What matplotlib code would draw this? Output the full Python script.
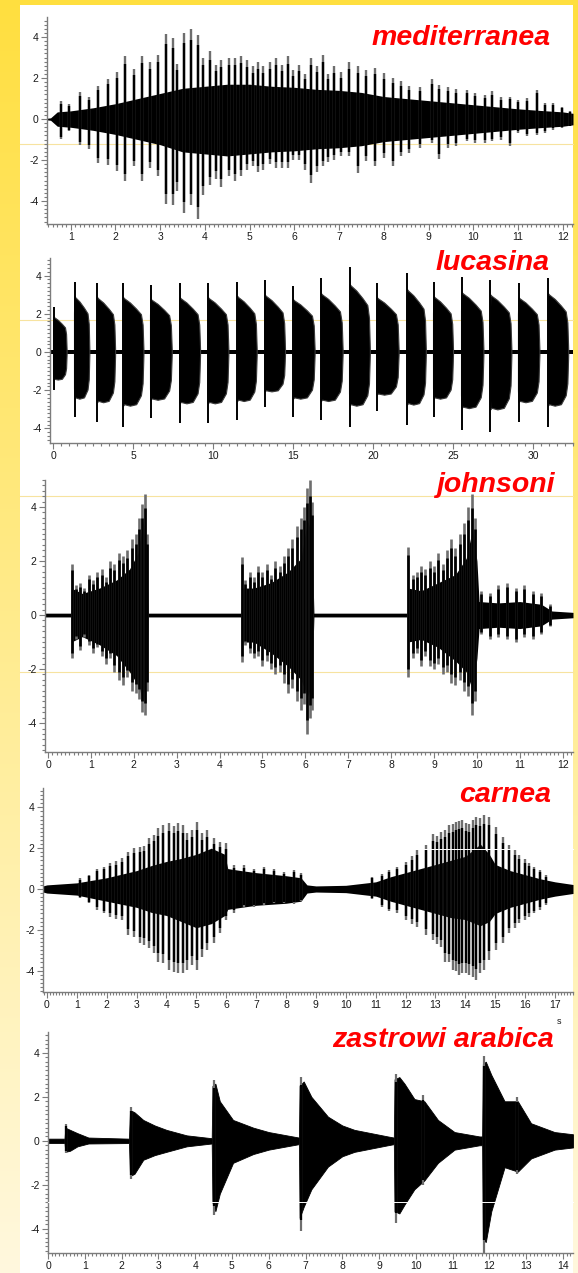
import numpy as np
import matplotlib
matplotlib.use('Agg')
import matplotlib.pyplot as plt
from matplotlib.ticker import MultipleLocator, FixedLocator, FixedFormatter
from matplotlib.lines import Line2D

plt.rcParams['font.family'] = ['Liberation Sans', 'DejaVu Sans']

W, H = 578, 1273

# ---------------- data ----------------
titles = ['mediterranea', 'lucasina', 'johnsoni', 'carnea', 'zastrowi arabica']

ytick_vals = [-4, -2, 0, 2, 4]
ytick_labels = ['-4', '-2', '0', '2', '4']

# mediterranea
med_xticks = [1, 2, 3, 4, 5, 6, 7, 8, 9, 10, 11, 12]
med_core_t = [0.47, 0.55, 0.7, 1.0, 1.5, 2.0, 2.5, 3.0, 3.5, 4.0, 4.5, 5.0, 5.5, 6.0, 6.5,
              7.0, 7.5, 8.0, 8.5, 9.0, 9.5, 10.0, 10.5, 11.0, 11.5, 12.0, 12.23]
med_core_hi = [0.04, 0.06, 0.35, 0.4, 0.55, 0.75, 1.0, 1.25, 1.5, 1.6, 1.7, 1.7, 1.6, 1.55, 1.45,
               1.4, 1.3, 1.1, 1.0, 0.9, 0.8, 0.7, 0.6, 0.5, 0.42, 0.35, 0.28]
med_core_lo = [-0.04, -0.06, -0.35, -0.4, -0.55, -0.75, -1.0, -1.25, -1.6, -1.7, -1.8, -1.7, -1.6, -1.55, -1.45,
               -1.4, -1.3, -1.1, -1.0, -0.9, -0.8, -0.7, -0.6, -0.5, -0.42, -0.35, -0.28]
med_sp_t = [0.78, 0.97, 1.20, 1.40, 1.61, 1.84, 2.04, 2.22, 2.41, 2.60, 2.78, 2.96, 3.12, 3.28,
            3.38, 3.53, 3.69, 3.84, 3.96, 4.11, 4.25, 4.37, 4.53, 4.68, 4.80, 4.94, 5.07, 5.19,
            5.31, 5.45, 5.58, 5.72, 5.85, 5.98, 6.11, 6.24, 6.37, 6.50, 6.63, 6.76, 6.89, 7.05,
            7.23, 7.42, 7.60, 7.80, 8.01, 8.20, 8.39, 8.57, 8.80, 9.07, 9.24, 9.43, 9.62, 9.85,
            10.03, 10.26, 10.41, 10.63, 10.82, 11.00, 11.20, 11.42, 11.60, 11.79, 11.98, 12.17]
med_sp_hi = [0.86, 0.75, 1.30, 1.07, 1.63, 1.95, 2.28, 3.06, 2.44, 3.09, 2.80, 3.14, 4.16, 3.95,
             2.70, 4.20, 4.39, 4.10, 3.00, 3.30, 2.65, 2.90, 2.98, 3.00, 3.10, 2.90, 2.57, 2.76,
             2.57, 2.76, 2.98, 2.65, 3.06, 2.40, 2.65, 2.20, 3.00, 2.60, 3.14, 2.20, 2.57, 2.30,
             2.80, 2.57, 2.40, 2.50, 2.24, 2.00, 1.84, 1.60, 1.56, 1.95, 1.67, 1.56, 1.46, 1.43,
             1.27, 1.19, 1.35, 1.07, 1.10, 0.94, 1.02, 1.43, 0.78, 0.78, 0.59, 0.37]
med_sp_lo = [-0.98, -0.60, -1.27, -1.46, -2.15, -2.23, -2.55, -3.04, -2.31, -3.04, -2.40, -2.80, -4.13, -4.18,
             -3.50, -4.60, -4.18, -4.90, -3.70, -3.20, -2.90, -3.30, -2.80, -3.04, -2.80, -2.47, -2.30, -2.60,
             -2.50, -2.20, -2.40, -2.40, -2.39, -2.00, -1.98, -2.50, -3.12, -2.60, -2.30, -2.10, -1.98, -1.82,
             -1.82, -2.63, -2.06, -2.30, -1.90, -2.30, -1.82, -1.66, -1.41, -1.17, -1.95, -1.41, -1.33, -1.09,
             -1.17, -1.17, -1.09, -1.00, -1.33, -0.68, -0.85, -0.76, -0.68, -0.52, -0.44, -0.36]

# lucasina
luc_xticks = [0, 5, 10, 15, 20, 25, 30]
luc_start = [0.0, 1.31, 2.73, 4.35, 6.06, 7.88, 9.65, 11.48, 13.2, 14.97, 16.71, 18.5, 20.2,
             22.1, 23.75, 25.5, 27.3, 29.06, 30.9]
luc_end = [0.85, 2.27, 3.88, 5.65, 7.42, 9.19, 10.96, 12.73, 14.5, 16.35, 18.1, 19.8, 21.6,
           23.3, 25.0, 26.9, 28.65, 30.4, 32.2]
luc_peak_hi = [2.34, 3.68, 3.6, 3.6, 3.5, 3.6, 3.6, 3.68, 3.77, 3.46, 3.86, 4.47, 3.6, 4.12,
               3.68, 3.94, 3.77, 3.6, 3.86]
luc_peak_lo = [-2.0, -3.39, -3.65, -3.9, -3.47, -3.73, -3.73, -3.56, -2.86, -3.39, -3.56, -3.9,
               -3.1, -3.82, -3.39, -4.08, -4.17, -3.65, -3.9]
luc_prof_t = [0.0, 0.02, 0.08, 0.35, 0.65, 0.88, 0.96, 1.0]
luc_prof_hi = [0.55, 0.80, 0.78, 0.72, 0.63, 0.55, 0.40, 0.04]
luc_prof_lo = [0.55, 0.72, 0.70, 0.72, 0.70, 0.58, 0.42, 0.04]
luc_base_t = [-0.19, 32.5]
luc_base_amp = [0.1, 0.1]

# johnsoni
joh_xticks = [0, 1, 2, 3, 4, 5, 6, 7, 8, 9, 10, 11, 12]
joh_core_t = [-0.07, 0.53, 0.54, 0.8, 1.2, 1.6, 1.9, 2.1, 2.22, 2.3, 2.34, 4.50, 4.51, 4.8, 5.2,
              5.6, 5.9, 6.05, 6.15, 6.2, 8.38, 8.39, 8.7, 9.1, 9.5, 9.75, 9.9, 10.0, 10.05, 10.5,
              11.0, 11.5, 11.75, 12.24]
joh_core_hi = [0.07, 0.07, 1.0, 0.8, 1.0, 1.3, 1.7, 2.3, 3.5, 2.0, 0.07, 0.07, 1.0, 1.0, 1.2,
               1.6, 2.1, 3.5, 3.0, 0.07, 0.07, 1.0, 0.9, 1.2, 1.5, 2.1, 3.2, 2.0, 0.5, 0.45,
               0.5, 0.4, 0.15, 0.1]
joh_core_lo = [-0.07, -0.07, -1.0, -0.8, -1.1, -1.5, -2.1, -2.6, -3.2, -2.0, -0.07, -0.07, -1.0, -1.0, -1.4,
               -1.9, -2.4, -3.0, -2.6, -0.07, -0.07, -1.0, -0.9, -1.2, -1.7, -2.1, -2.8, -1.6, -0.5, -0.45,
               -0.5, -0.4, -0.15, -0.1]
joh_sp_t = [0.55, 0.65, 0.75, 0.85, 0.95, 1.05, 1.15, 1.25, 1.35, 1.45, 1.55, 1.65, 1.75, 1.85,
            1.95, 2.05, 2.12, 2.18, 2.25, 2.30,
            4.52, 4.60, 4.70, 4.80, 4.90, 5.00, 5.10, 5.20, 5.30, 5.40, 5.50, 5.60, 5.70, 5.80,
            5.90, 5.98, 6.05, 6.10, 6.15,
            8.40, 8.50, 8.60, 8.70, 8.80, 8.90, 9.00, 9.10, 9.20, 9.30, 9.40, 9.50, 9.60, 9.70,
            9.80, 9.88, 9.95,
            10.1, 10.3, 10.5, 10.7, 10.9, 11.1, 11.3, 11.5, 11.7]
joh_sp_hi = [1.88, 1.1, 1.2, 1.0, 1.5, 1.3, 1.6, 1.7, 1.4, 2.0, 1.9, 2.3, 2.2, 2.4,
             2.8, 3.0, 3.6, 4.1, 4.5, 3.0,
             2.16, 1.3, 1.6, 1.4, 1.8, 1.6, 1.9, 1.5, 2.0, 1.8, 2.2, 2.5, 2.8, 3.3,
             3.6, 4.0, 4.7, 5.0, 4.2,
             2.53, 1.5, 1.6, 1.8, 1.7, 2.0, 1.8, 2.3, 1.9, 2.4, 2.8, 2.5, 3.0, 3.4,
             4.0, 4.5, 3.6,
             0.9, 0.8, 1.1, 1.2, 1.0, 1.1, 0.9, 0.8, 0.4]
joh_sp_lo = [-1.6, -0.9, -1.3, -0.8, -1.1, -1.4, -1.2, -1.5, -1.8, -1.6, -2.1, -2.4, -2.6, -2.3,
             -2.8, -2.9, -3.1, -3.6, -3.7, -2.8,
             -1.73, -1.1, -1.4, -1.6, -1.5, -1.9, -1.7, -2.0, -2.2, -2.1, -2.5, -2.9, -2.7, -3.2,
             -3.5, -3.3, -4.4, -3.8, -3.5,
             -2.28, -1.6, -1.4, -1.9, -1.5, -1.9, -2.0, -1.8, -2.2, -2.1, -2.5, -2.6, -2.4, -2.8,
             -3.0, -3.7, -3.2,
             -0.7, -0.9, -0.8, -0.9, -1.0, -0.8, -0.9, -0.7, -0.4]

# carnea
car_xticks = list(range(0, 18))
car_core_t = [-0.13, 0.0, 1.0, 2.0, 3.0, 3.5, 4.0, 4.5, 5.0, 5.5, 5.95, 6.05, 6.5, 7.0, 8.0, 8.5,
              8.7, 9.0, 10.0, 11.0, 11.5, 12.0, 12.5, 13.0, 13.5, 14.0, 14.5, 14.8, 15.0, 15.5,
              16.0, 16.5, 17.0, 17.6]
car_core_hi = [0.15, 0.2, 0.3, 0.55, 0.9, 1.15, 1.35, 1.5, 1.7, 2.0, 1.7, 1.0, 0.9, 0.8, 0.65, 0.55,
               0.2, 0.15, 0.18, 0.35, 0.6, 0.8, 1.0, 1.2, 1.4, 1.6, 2.2, 1.7, 1.2, 0.9,
               0.7, 0.5, 0.35, 0.22]
car_core_lo = [-0.15, -0.2, -0.3, -0.6, -0.9, -1.15, -1.3, -1.6, -1.9, -1.7, -1.3, -1.0, -0.9, -0.8, -0.7, -0.6,
               -0.2, -0.15, -0.18, -0.35, -0.6, -0.8, -1.0, -1.2, -1.4, -1.5, -1.8, -1.6, -1.2, -0.9,
               -0.7, -0.5, -0.35, -0.22]
car_sp_t = [1.11, 1.40, 1.67, 1.90, 2.12, 2.30, 2.50, 2.70, 2.90, 3.10, 3.25, 3.40, 3.57, 3.73,
            3.90, 4.07, 4.24, 4.40, 4.55, 4.70, 4.85, 5.02, 5.19, 5.36, 5.58, 5.80, 6.00, 6.25,
            6.59, 6.93, 7.26, 7.60, 7.93, 8.25, 8.50,
            10.89, 11.20, 11.45, 11.70, 12.00, 12.20, 12.39, 12.67, 12.90, 13.05, 13.18, 13.32,
            13.45, 13.57, 13.68, 13.79, 13.90, 14.02, 14.13, 14.24, 14.35, 14.50, 14.63, 14.80,
            15.02, 15.25, 15.47, 15.65, 15.81, 15.98, 16.14, 16.30, 16.48, 16.70]
car_sp_hi = [0.52, 0.70, 1.00, 1.10, 1.26, 1.35, 1.50, 1.83, 2.00, 2.07, 2.10, 2.48, 2.65, 2.97,
             3.14, 3.22, 3.10, 3.22, 3.14, 2.73, 2.90, 3.30, 2.73, 2.90, 2.48, 2.32, 2.24, 1.18,
             1.18, 1.00, 1.10, 1.00, 0.85, 0.93, 0.80,
             0.60, 0.75, 0.93, 1.10, 1.34, 1.60, 1.90, 2.15, 2.70, 2.60, 2.80, 2.90,
             3.14, 3.20, 3.30, 3.35, 3.38, 3.25, 3.20, 3.40, 3.55, 3.50, 3.63, 3.55,
             3.05, 2.56, 2.15, 1.90, 1.67, 1.45, 1.26, 1.10, 0.93, 0.69]
car_sp_lo = [-0.46, -0.70, -1.03, -1.20, -1.36, -1.45, -1.52, -2.25, -2.34, -2.66, -2.75, -2.90, -3.15, -3.56,
             -3.64, -3.97, -4.05, -4.10, -4.13, -3.97, -3.72, -3.97, -3.32, -3.00, -2.66, -2.17, -1.52, -1.19,
             -0.90, -0.87, -0.78, -0.70, -0.70, -0.75, -0.60,
             -0.50, -0.90, -1.10, -1.19, -1.52, -1.70, -1.85, -2.25, -2.50, -2.70, -2.83, -3.56,
             -3.60, -3.97, -4.00, -4.20, -4.13, -4.10, -4.20, -4.30, -4.46, -4.10, -3.97, -3.48,
             -3.00, -2.66, -2.17, -1.90, -1.68, -1.50, -1.36, -1.20, -1.03, -0.80]

# zastrowi arabica
zas_xticks = list(range(0, 15))
zas_core_t = [0.0, 0.45, 0.47, 0.6, 0.8, 1.1, 2.2, 2.23, 2.35, 2.59, 2.9, 3.22, 3.77, 4.45, 4.47,
              4.55, 4.67, 5.03, 5.58, 6.0, 6.49, 6.82, 6.84, 6.95, 7.16, 7.61, 8.0, 8.33, 9.24,
              9.40, 9.42, 9.55, 9.69, 9.96, 10.23, 10.6, 11.05, 11.73, 11.80, 11.82, 11.9, 12.05,
              12.41, 12.77, 13.13, 13.77, 14.27]
zas_core_hi = [0.1, 0.1, 0.6, 0.5, 0.35, 0.15, 0.1, 1.4, 1.3, 0.95, 0.7, 0.5, 0.25, 0.12, 2.5,
               2.6, 1.8, 0.95, 0.6, 0.4, 0.25, 0.15, 2.5, 2.7, 2.0, 1.1, 0.7, 0.5, 0.2,
               0.15, 2.8, 2.9, 2.6, 1.9, 1.8, 0.95, 0.4, 0.2, 0.2, 3.5, 3.6, 3.0,
               1.8, 1.8, 0.8, 0.4, 0.3]
zas_core_lo = [-0.1, -0.1, -0.5, -0.45, -0.25, -0.12, -0.1, -1.6, -1.5, -0.86, -0.65, -0.5, -0.25, -0.12, -2.8,
               -3.2, -2.4, -1.0, -0.6, -0.4, -0.25, -0.15, -3.5, -3.0, -2.2, -1.17, -0.7, -0.5, -0.2,
               -0.15, -3.2, -3.3, -2.9, -2.2, -1.8, -1.0, -0.4, -0.2, -0.2, -4.5, -4.6, -3.2,
               -1.2, -1.4, -0.8, -0.4, -0.3]
zas_sp_t = [0.48, 2.25, 4.50, 6.87, 9.45, 10.20, 11.86, 12.75]
zas_sp_hi = [0.75, 1.55, 2.75, 2.90, 3.05, 2.10, 3.85, 2.00]
zas_sp_lo = [-0.55, -1.75, -3.35, -4.08, -3.74, -2.00, -5.10, -1.50]

# ---------------- figure ----------------
fig = plt.figure(figsize=(W / 100, H / 100), dpi=100)

# background frame: yellow strips with vertical gradient
bg = np.ones((H, W, 3))
rows = np.linspace(0, 1, H)[:, None]
top_c = np.array([255, 223, 63]) / 255
bot_c = np.array([255, 248, 222]) / 255
grad = top_c + (bot_c - top_c) * rows
bg[:, :20, :] = grad[:, None, :]
bg[:, 573:, :] = grad[:, None, :]
bg[:5, :, :] = top_c
axbg = fig.add_axes([0, 0, 1, 1], zorder=-10)
axbg.imshow(bg, aspect='auto', interpolation='nearest')
axbg.axis('off')

SP = '#7c7c7c'


def make_ax(left, top, right, bottom, xlim, ylim, xticks, xminor):
    ax = fig.add_axes([left / W, 1 - bottom / H, (right - left) / W, (bottom - top) / H])
    ax.set_facecolor('none')
    ax.set_xlim(xlim)
    ax.set_ylim(ylim)
    for s in ['top', 'right']:
        ax.spines[s].set_visible(False)
    for s in ['left', 'bottom']:
        ax.spines[s].set_color(SP)
        ax.spines[s].set_linewidth(1.0)
    ax.xaxis.set_major_locator(FixedLocator(xticks))
    ax.xaxis.set_major_formatter(FixedFormatter([str(v) for v in xticks]))
    ax.xaxis.set_minor_locator(MultipleLocator(xminor))
    ax.yaxis.set_major_locator(FixedLocator(ytick_vals))
    ax.yaxis.set_major_formatter(FixedFormatter(ytick_labels))
    ax.yaxis.set_minor_locator(MultipleLocator(0.2))
    ax.tick_params(which='both', direction='out', color=SP, labelcolor='#1a1a1a',
                   labelsize=7.5, width=0.8)
    ax.tick_params(which='major', length=4, pad=2)
    ax.tick_params(which='minor', length=2)
    return ax


def draw_spikes(ax, t, hi, lo, lw=1.5):
    t = np.asarray(t); hi = np.asarray(hi); lo = np.asarray(lo)
    ax.vlines(t, lo, hi, color='#6e6e6e', lw=lw, zorder=2)
    ax.vlines(t, lo * 0.88, hi * 0.88, color='black', lw=lw, zorder=3)


# panel 1: mediterranea
ax1 = make_ax(47, 17, 573, 224, (0.47, 12.23), (-5.12, 4.98), med_xticks, 0.1)
ax1.fill_between(med_core_t, med_core_lo, med_core_hi, color='black', lw=0, zorder=2)
draw_spikes(ax1, med_sp_t, med_sp_hi, med_sp_lo, lw=1.7)

# panel 2: lucasina
ax2 = make_ax(50, 258, 573, 443, (-0.19, 32.5), (-4.76, 4.92), luc_xticks, 0.5)
ax2.fill_between(luc_base_t, -np.array(luc_base_amp), luc_base_amp, color='black', lw=0, zorder=2)
for s, e, ph, pl in zip(luc_start, luc_end, luc_peak_hi, luc_peak_lo):
    tt = s + np.array(luc_prof_t) * (e - s)
    ax2.fill_between(tt, pl * np.array(luc_prof_lo), ph * np.array(luc_prof_hi),
                     facecolor='black', edgecolor='#3a3a3a', lw=0.8, zorder=2)
    ax2.vlines(s + 0.04, pl, ph, color='black', lw=1.4, zorder=3)

# panel 3: johnsoni
ax3 = make_ax(45, 480, 573, 752, (-0.07, 12.24), (-5.07, 5.0), joh_xticks, 0.1)
ax3.fill_between(joh_core_t, joh_core_lo, joh_core_hi, color='black', lw=0, zorder=2)
draw_spikes(ax3, joh_sp_t, joh_sp_hi, joh_sp_lo, lw=1.9)

# panel 4: carnea
ax4 = make_ax(43, 788, 573, 992, (-0.13, 17.6), (-5.05, 4.95), car_xticks, 0.1)
ax4.fill_between(car_core_t, car_core_lo, car_core_hi, color='black', lw=0, zorder=2)
draw_spikes(ax4, car_sp_t, car_sp_hi, car_sp_lo, lw=1.7)

# panel 5: zastrowi arabica
ax5 = make_ax(48, 1032, 573, 1253, (0.0, 14.27), (-5.1, 4.95), zas_xticks, 0.1)
ax5.fill_between(zas_core_t, zas_core_lo, zas_core_hi, color='black', lw=0.6, zorder=2)
draw_spikes(ax5, zas_sp_t, zas_sp_hi, zas_sp_lo, lw=1.6)

# thin decorative lines across panels
for py in [144, 320, 496, 672]:
    fig.add_artist(Line2D([20 / W, 573 / W], [1 - py / H, 1 - py / H],
                          color='#f7e3a0', lw=0.8, zorder=-1))
for py, x0 in [(849, 300), (1202, 48)]:
    fig.add_artist(Line2D([x0 / W, 573 / W], [1 - py / H, 1 - py / H],
                          color='white', lw=0.7, zorder=5))

# species names
title_pos = [(551, 45), (550, 270), (555, 492), (551, 802), (554, 1047)]
for name, (px, py) in zip(titles, title_pos):
    fig.text(px / W, 1 - py / H, name, ha='right', va='baseline', color='#ff0000',
             fontsize=20.5, fontweight='bold', fontstyle='italic')

fig.text(559 / W, 1 - 1021 / H, 's', ha='center', va='center', fontsize=6.5, color='#1a1a1a')

fig.savefig('out.png', dpi=100)
